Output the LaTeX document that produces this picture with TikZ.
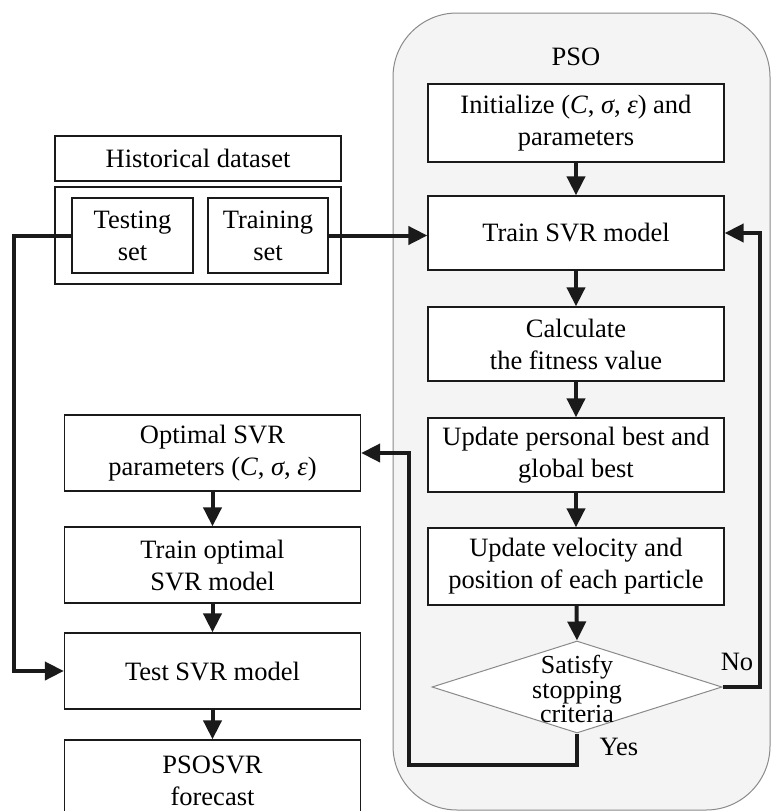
\documentclass[tikz,border=0pt]{standalone}
\usepackage{fontspec}
\setmainfont{Liberation Serif}
\usetikzlibrary{arrows.meta,shapes.geometric}
\definecolor{psofill}{HTML}{F4F4F4}
\definecolor{edgegray}{HTML}{8A8A8A}
\definecolor{inkline}{HTML}{1A1A1A}
\begin{document}
\begin{tikzpicture}[x=1pt,y=-1pt,
  txt/.style={font=\fontsize{26.5}{32}\selectfont, text=black},
  box/.style={txt, draw=inkline, line width=1.3pt, fill=white, align=center, inner sep=0pt, minimum width=296pt},
  sbox/.style={box, minimum width=121pt, minimum height=75pt},
  arr/.style={draw=inkline, line width=4pt, -{Triangle[length=19pt,width=18pt]}}
]
\useasboundingbox (0,0) rectangle (772,811);
\fill[white] (0,0) rectangle (772,811);
% PSO container
\draw[edgegray, line width=1pt, fill=psofill, rounded corners=64pt] (393,13) rectangle (770,810);
\node[txt] (psolbl) at (576,57) {PSO};
% PSO boxes
\node[box, minimum height=78pt] (init) at (576,123) {Initialize (\textit{C}, \textit{σ}, \textit{ε}) and\\parameters};
\node[box, minimum height=74pt] (train) at (576,233) {Train SVR model};
\node[box, minimum height=74pt] (calc) at (576,344) {Calculate\\the fitness value};
\node[box, minimum height=74pt] (upd1) at (576,455) {Update personal best and\\global best};
\node[box, minimum height=77pt] (upd2) at (576,566.5) {Update velocity and\\position of each particle};
\node[draw=edgegray, line width=1pt, fill=white, shape=diamond, inner sep=0pt, aspect=3.15, minimum width=290pt, minimum height=92pt] (dia) at (577,687) {};
\node[txt, align=center, font=\fontsize{26}{24.5}\selectfont] (diatxt) at (577,689) {Satisfy\\stopping\\criteria};
% dataset
\node[box, minimum width=286pt, minimum height=45pt] (hist) at (198,158.5) {Historical dataset};
\node[box, minimum width=286pt, minimum height=97pt] (outer) at (198,235.5) {};
\node[sbox] (testset) at (132.5,235.5) {Testing\\set};
\node[sbox, minimum width=120pt] (trainset) at (268,235.5) {Training\\set};
% left column
\node[box, minimum height=76pt] (opt) at (212.5,453) {Optimal SVR\\parameters (\textit{C}, \textit{σ}, \textit{ε})};
\node[box, minimum height=76pt] (trainopt) at (212.5,565) {Train optimal\\SVR model};
\node[box, minimum height=76pt] (testsvr) at (212.5,671) {Test SVR model};
\node[box, minimum height=82pt] (psosvr) at (212.5,781) {PSOSVR\\forecast};
% arrows in PSO
\draw[arr] (init) -- (train);
\draw[arr] (train) -- (calc);
\draw[arr] (calc) -- (upd1);
\draw[arr] (upd1) -- (upd2);
\draw[arr] (upd2) -- (dia.north);
% left column arrows
\draw[arr] (opt) -- (trainopt);
\draw[arr] (trainopt) -- (testsvr);
\draw[arr] (testsvr) -- (psosvr);
% No loop
\coordinate (noc) at (760,687);
\draw[arr] (dia.east) -- (noc) |- (train.east);
\node[txt] (nolbl) at (737,662) {No};
% Yes path
\coordinate (y1) at (577,765);
\coordinate (y2) at (409,765);
\draw[arr] (dia.south) -- (y1) -- (y2) |- (opt.east);
\node[txt] (yeslbl) at (619,747) {Yes};
% testing set to test svr
\coordinate (t1) at (14,235.5);
\draw[arr] (testset.west) -- (t1) |- (testsvr.west);
% training set to train svr
\draw[arr] (trainset.east) -- (trainset.east -| train.west);
\end{tikzpicture}
\end{document}
